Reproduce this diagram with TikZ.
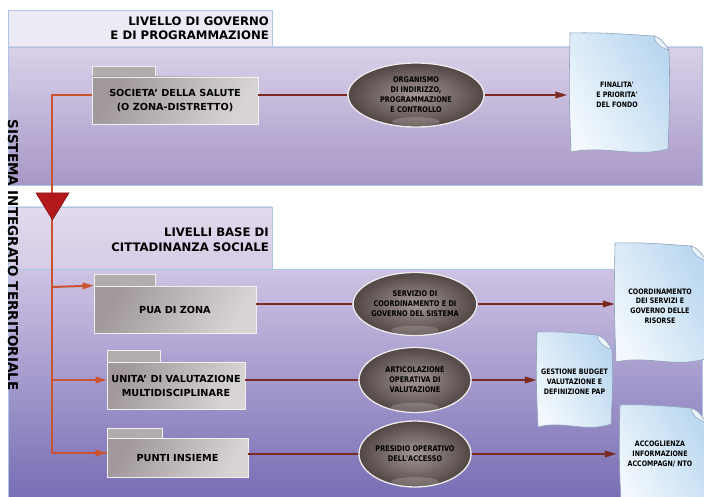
\documentclass[tikz,border=0pt]{standalone}
\usepackage{fontspec}
\setmainfont{DejaVu Sans}
\newfontfamily\narrowsans[FakeStretch=0.84]{DejaVu Sans}
\usetikzlibrary{shapes.geometric,calc,arrows.meta}
\definecolor{edgeblue}{HTML}{A9C6E6}
\definecolor{hdrA}{HTML}{EEEAF5}
\definecolor{hdrBt}{HTML}{E2DAEE}
\definecolor{hdrBb}{HTML}{D6CCE6}
\definecolor{bandAt}{HTML}{DAD1E9}
\definecolor{bandAb}{HTML}{A797C7}
\definecolor{bandBt}{HTML}{CEC3E3}
\definecolor{bandBb}{HTML}{776DB4}
\definecolor{boxL}{HTML}{A0989A}
\definecolor{boxR}{HTML}{D8D4D4}
\definecolor{tabc}{HTML}{B3ACAC}
\definecolor{ovalIn}{HTML}{A39896}
\definecolor{ovalOut}{HTML}{524644}
\definecolor{redline}{HTML}{C9542F}
\definecolor{darkline}{HTML}{7A2A1E}
\definecolor{trired}{HTML}{B3191C}
\definecolor{docA}{HTML}{F2F8FD}
\definecolor{docB}{HTML}{BBD8F0}
\definecolor{docedge}{HTML}{8EA2B8}
\newcommand\docpaper[4]{%
 \path[docfill] (#1,#2) .. controls ({#1+0.35*(#3-#1)},{#2-1}) and ({#1+0.65*(#3-#1)},{#2+2}) .. ({#3-15},{#2+3})
   .. controls ({#3-8},{#2+6}) .. (#3,{#2+17})
   .. controls ({#3+1},{#2+0.5*(#4-#2)}) .. ({#3-1},{#4-3})
   .. controls ({#3-0.35*(#3-#1)},{#4+6}) and ({#1+0.35*(#3-#1)},{#4-7}) .. ({#1+1},#4)
   .. controls ({#1-1},{#2+0.5*(#4-#2)}) .. (#1,#2) -- cycle;
 \path[foldfill] ({#3-15},{#2+3}) .. controls ({#3-13},{#2+12}) and ({#3-8},{#2+15}) .. (#3,{#2+17})
   .. controls ({#3-8},{#2+6}) .. ({#3-15},{#2+3}) -- cycle;
}
\newcommand\gloss[1]{\fill[white,opacity=0.18] ($(#1.south)+(0,-6)$) ellipse (24 and 4.5);}
\begin{document}
\begin{tikzpicture}[x=1pt,y=-1pt,
  hdrtext/.style={align=right,anchor=east,inner sep=0pt,font=\bfseries\fontsize{11.7}{14.5}\selectfont},
  pkg/.style={draw=white!88!gray,line width=0.8pt,left color=boxL,right color=boxR,shading angle=60,
     inner sep=0pt,align=center,font=\bfseries\fontsize{9.7}{14}\selectfont},
  tab/.style={draw=white!88!gray,line width=0.8pt,fill=tabc},
  oval/.style={ellipse,draw=white!85!gray,line width=1.3pt,inner color=ovalIn,outer color=ovalOut,
     inner sep=0pt,align=center,font=\narrowsans\bfseries\fontsize{7.8}{10}\selectfont},
  docfill/.style={draw=docedge,line width=0.6pt,left color=docA,right color=docB,shading angle=120},
  foldfill/.style={draw=docedge,line width=0.5pt,fill=white!70!docB},
  doctext/.style={inner sep=0pt,align=center,font=\narrowsans\bfseries\fontsize{7.5}{9.8}\selectfont},
  rline/.style={draw=redline,line width=2pt},
  rarrow/.style={draw=redline,line width=2pt,-{Triangle[length=11pt,width=6.5pt]}},
  darrow/.style={draw=darkline,line width=2pt,-{Triangle[length=12pt,width=6.5pt]}},
  dline/.style={draw=darkline,line width=2pt}]
\useasboundingbox (0,0) rectangle (704,497);
\fill[white] (0,0) rectangle (704,497);
% bands
\path[draw=edgeblue,fill=hdrA,line width=0.8pt] (8,10) rectangle (272,47);
\path[draw=edgeblue,top color=bandAt,bottom color=bandAb,line width=0.8pt] (8,47) rectangle (702,185);
\path[draw=edgeblue,top color=hdrBt,bottom color=hdrBb,line width=0.8pt] (8,207) rectangle (272,269);
\path[draw=edgeblue,top color=bandBt,bottom color=bandBb,line width=0.8pt] (8,269) rectangle (702,500);
% headers
\node[hdrtext] (h1) at (269,28) {LIVELLO DI GOVERNO\\E DI  PROGRAMMAZIONE};
\node[hdrtext] (h2) at (269,239.5) {LIVELLI BASE DI\\CITTADINANZA SOCIALE};
\node[rotate=-90,inner sep=0pt,font=\bfseries\fontsize{13.5}{15}\selectfont] (sys) at (13,255) {SISTEMA INTEGRATO TERRITORIALE};
% tabs
\path[tab] (92,66) rectangle (155,78);
\path[tab] (94,274) rectangle (155,287);
\path[tab] (107,350) rectangle (160,363);
\path[tab] (107,428) rectangle (162,439);
% boxes
\node[pkg,minimum width=166pt,minimum height=47pt] (soc) at (175,100.5) {SOCIETA' DELLA SALUTE\\(O ZONA-DISTRETTO)};
\node[pkg,minimum width=162pt,minimum height=47pt] (pua) at (175,309.5) {PUA DI ZONA};
\node[pkg,minimum width=138pt,minimum height=47pt] (uvm) at (176,385.5) {UNITA' DI VALUTAZIONE\\MULTIDISCIPLINARE};
\node[pkg,minimum width=141pt,minimum height=39pt] (pin) at (177.5,457.5) {PUNTI INSIEME};
% trunk
\coordinate (t0) at (52,95);
\coordinate (j1) at (52,287);
\coordinate (j2) at (52,380);
\coordinate (j3) at (52,453);
\draw[rline] (soc.west |- t0) -- (t0) -- (j3) -- (j3 -| pin.west);
\draw[rarrow] (j1) -- (pua.north west);
\draw[rarrow] (j2) -- (j2 -| uvm.west);
\draw[rarrow] (j3) -- (j3 -| pin.west);
\path[fill=trired,draw=trired!70!black,line width=0.5pt] (36,193) -- (69,193) -- (52.5,220) -- cycle;
% documents
\docpaper{570}{33}{669}{152}
\docpaper{615}{243}{706}{362}
\docpaper{537}{332}{612}{427}
\docpaper{620}{405}{706}{505}
\node[doctext,minimum width=99pt,minimum height=90pt] (d1) at (617,95) {FINALITA'\\E PRIORITA'\\DEL FONDO};
\node[doctext,minimum width=90pt,minimum height=90pt] (d2) at (660,306) {COORDINAMENTO\\DEI SERVIZI E\\GOVERNO DELLE\\RISORSE};
\node[doctext,minimum width=75pt,minimum height=80pt] (d3) at (574.5,382) {GESTIONE BUDGET\\VALUTAZIONE E\\DEFINIZIONE PAP};
\node[doctext,minimum width=86pt,minimum height=80pt] (d4) at (660,454) {ACCOGLIENZA\\INFORMAZIONE\\ACCOMPAGN/ NTO};
% ovals
\node[oval,minimum width=136pt,minimum height=64pt] (e1) at (416,95) {ORGANISMO\\DI INDIRIZZO,\\PROGRAMMAZIONE\\E CONTROLLO};
\node[oval,minimum width=112pt,minimum height=63pt] (e2) at (415,304) {SERVIZIO DI\\COORDINAMENTO E DI\\GOVERNO DEL SISTEMA};
\node[oval,minimum width=112pt,minimum height=65pt] (e3) at (415,380) {ARTICOLAZIONE\\OPERATIVA DI\\VALUTAZIONE};
\node[oval,minimum width=112pt,minimum height=66pt] (e4) at (415,454) {PRESIDIO OPERATIVO\\DELL'ACCESSO};
\gloss{e1}\gloss{e2}\gloss{e3}\gloss{e4}
% connectors
\draw[dline] (e1.west -| soc.east) -- (e1.west);
\draw[darrow] (e1.east) -- (e1.east -| d1.west);
\draw[dline] (e2.west -| pua.east) -- (e2.west);
\draw[darrow] (e2.east) -- (e2.east -| d2.west);
\draw[dline] (e3.west -| uvm.east) -- (e3.west);
\draw[darrow] (e3.east) -- (e3.east -| d3.west);
\draw[dline] (e4.west -| pin.east) -- (e4.west);
\draw[darrow] (e4.east) -- (e4.east -| d4.west);
\end{tikzpicture}
\end{document}
